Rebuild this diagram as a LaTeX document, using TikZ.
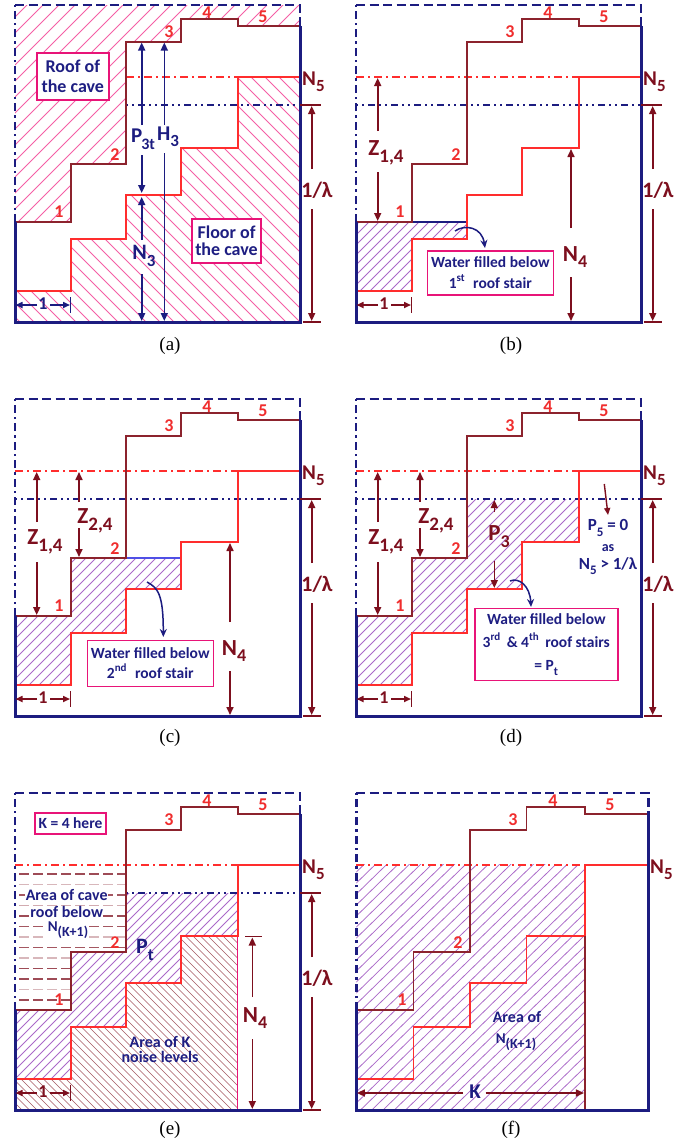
\documentclass[tikz,border=0pt]{standalone}
\usepackage{fontspec}
\setmainfont{Liberation Serif}
\newfontfamily\calfont{Carlito}
\usetikzlibrary{arrows.meta}
\definecolor{navy}{RGB}{28,28,128}
\definecolor{roofc}{RGB}{140,35,45}
\definecolor{dred}{RGB}{125,15,30}
\definecolor{flr}{RGB}{255,45,45}
\definecolor{stairred}{RGB}{240,45,45}
\definecolor{pinkb}{RGB}{232,20,120}
\definecolor{pinkh}{RGB}{245,95,165}
\definecolor{purh}{RGB}{170,105,200}
\definecolor{txtblue}{RGB}{30,30,130}
\definecolor{wblue}{RGB}{80,80,230}
\newcommand\lab[3]{#1\raisebox{-0.3em}{\fontsize{#3}{#3}\selectfont #2}}
\newcommand\sups[1]{\raisebox{0.45em}{\fontsize{11}{11}\selectfont #1}}
\newcommand\hatchNE[3]{\begin{scope}\clip #3;\foreach \k in {0,...,95}{\draw[#1] ({-330+\k*#2},330) -- ++(330,-330);}\end{scope}}
\newcommand\hatchNW[3]{\begin{scope}\clip #3;\foreach \k in {0,...,95}{\draw[#1] ({-330+\k*#2},0) -- ++(330,330);}\end{scope}}
\tikzset{
  boxsolid/.style={navy, line width=3pt},
  boxdashT/.style={navy, line width=2.6pt, dash pattern=on 9pt off 4.5pt},
  boxdashL/.style={navy, line width=2.6pt, dash pattern=on 8pt off 4pt on 2.5pt off 4pt},
  roof/.style={roofc, line width=1.8pt},
  floor/.style={flr, line width=1.8pt},
  n5line/.style={flr, line width=1.6pt, dash pattern=on 8pt off 4pt on 2pt off 4pt},
  lamline/.style={navy, line width=1.6pt, dash pattern=on 2pt off 4pt on 2pt off 4pt on 7pt off 4pt},
  stairlbl/.style={font=\calfont\bfseries\fontsize{18}{18}\selectfont, text=stairred, inner sep=0pt},
  biglbl/.style={font=\calfont\bfseries\fontsize{21}{21}\selectfont, inner sep=0pt},
  dim/.style={line width=1.6pt, -{Triangle[length=8pt,width=7pt]}},
  curv/.style={navy, line width=1.5pt, -{Stealth[length=8pt,width=7pt]}},
  txtbox/.style={draw=pinkb, line width=1.5pt, fill=white, text=txtblue, align=center, inner sep=0pt},
  hpink/.style={pinkh, line width=0.8pt},
  hpur/.style={purh, line width=0.75pt},
  hdred/.style={dred!70, line width=0.6pt},
  captxt/.style={font=\fontsize{19}{19}\selectfont, inner sep=0pt}
}
\newcommand\roofline{\draw[roof] (15,222) -- (70.7,222) -- (70.7,164) -- (126,164) -- (126,41.7) -- (181,41.7) -- (181,19) -- (237.7,19) -- (237.7,26) -- (300,26);}
\newcommand\floorline{\draw[floor] (15,290.7) -- (70.7,290.7) -- (70.7,239.3) -- (126,239.3) -- (126,195) -- (181,195) -- (181,148.3) -- (237.7,148.3) -- (237.7,76.7) -- (300,76.7);}
\newcommand\panelbox{%
  \draw[boxsolid] (15,222) -- (15,322) -- (300,322) -- (300,26);
  \draw[boxdashL] (15,222) -- (15,5);
  \draw[boxdashT] (15,5) -- (300,5) -- (300,26);}
\newcommand\stairs[1]{%
  \node[stairlbl] (s1#1) at (59,212) {1};
  \node[stairlbl] (s2#1) at (115,155) {2};
  \node[stairlbl] (s3#1) at (169,32) {3};
  \node[stairlbl] (s4#1) at (207,13) {4};
  \node[stairlbl] (s5#1) at (263,17) {5};}
\newcommand\nfive[1]{\node[biglbl, text=dred, anchor=west] (n5#1) at (302,82) {\lab{N}{5}{17}};}
\newcommand\vdim[7]{%
  \coordinate (#7t) at (#2,#3); \coordinate (#7u) at (#2,#4);
  \coordinate (#7l) at (#2,#5); \coordinate (#7b) at (#2,#6);
  \draw[dim,#1] (#7u) -- (#7t); \draw[dim,#1] (#7l) -- (#7b);}
\newcommand\lamdim[1]{%
  \node[biglbl, text=dred, font=\calfont\bfseries\fontsize{22}{22}\selectfont] (lam#1) at (317,190) {1/λ};
  \draw[dred, line width=1.5pt] (300,105) -- (321,105);
  \draw[dred, line width=1.5pt] (303,322) -- (321,322);
  \vdim{dred}{311.7}{106}{169}{209}{321}{lamd#1}}
\newcommand\onedim[2]{%
  \node[font=\calfont\bfseries\fontsize{18}{18}\selectfont, text=#1, inner sep=0pt] (one#2) at (43,304) {1};
  \coordinate (oneL#2) at (15.5,305); \coordinate (oneR#2) at (70,305);
  \coordinate (oneA#2) at (37,305); \coordinate (oneB#2) at (50,305);
  \draw[#1, line width=1.6pt, -{Triangle[length=7pt,width=6pt]}] (oneA#2) -- (oneL#2);
  \draw[#1, line width=1.6pt, -{Triangle[length=7pt,width=6pt]}] (oneB#2) -- (oneR#2);
  \draw[#1, line width=1.3pt] (70.7,297) -- (70.7,313);}
\newcommand\zonefour[1]{%
  \node[biglbl, text=dred, font=\calfont\bfseries\fontsize{23}{23}\selectfont] (z1#1) at (45,148) {\lab{Z}{1,4}{19}};
  \vdim{dred}{36.7}{78}{128}{168}{221}{z1d#1}}
\newcommand\ztwofour[1]{%
  \node[biglbl, text=dred, font=\calfont\bfseries\fontsize{23}{23}\selectfont] (z2#1) at (95,127) {\lab{Z}{2,4}{19}};
  \vdim{dred}{79}{78}{108}{134}{163}{z2d#1}}
\newcommand\nfour[3]{%
  \node[biglbl, text=dred, font=\calfont\bfseries\fontsize{23}{23}\selectfont] (n4#1) at (#2+4,257) {\lab{N}{4}{18}};
  \vdim{dred}{#2}{#3}{228}{277}{321}{n4d#1}}
\begin{document}
\begin{tikzpicture}[x=1pt,y=-1pt]
\useasboundingbox (0,0) rectangle (697,1144);
\fill[white] (0,0) rectangle (697,1144);

% ---------------- (a)
\begin{scope}
  \hatchNE{hpink}{16}{(15,5) -- (300,5) -- (300,26) -- (237.7,26) -- (237.7,19) -- (181,19) -- (181,41.7) -- (126,41.7) -- (126,164) -- (70.7,164) -- (70.7,222) -- (15,222) -- cycle}
  \hatchNW{hpink}{14}{(15,322) -- (15,290.7) -- (70.7,290.7) -- (70.7,239.3) -- (126,239.3) -- (126,195) -- (181,195) -- (181,148.3) -- (237.7,148.3) -- (237.7,76.7) -- (300,76.7) -- (300,322) -- cycle}
  \draw[n5line] (126,76.7) -- (237.7,76.7);
  \draw[lamline] (126,105) -- (300,105);
  \roofline \floorline \panelbox
  \stairs{a} \nfive{a} \lamdim{a}
  \node[txtbox, minimum width=72pt, minimum height=47pt, font=\calfont\bfseries\fontsize{18}{20}\selectfont] (roofbox) at (72.8,76.5) {Roof of\\the cave};
  \node[txtbox, minimum width=69pt, minimum height=44pt, font=\calfont\bfseries\fontsize{18}{17}\selectfont] (floorbox) at (226.5,241) {Floor of\\the cave};
  \node[biglbl, text=navy] (p3t) at (143,139) {P\raisebox{-0.35em}{\fontsize{16}{16}\selectfont\hspace{-1pt}3t}};
  \node[biglbl, text=navy] (h3) at (168,137) {\lab{H}{3}{17}};
  \node[biglbl, text=navy, font=\calfont\bfseries\fontsize{22}{22}\selectfont] (n3) at (144,256) {\lab{N}{3}{17}};
  \vdim{navy}{141.7}{42.5}{125}{155}{193}{p3d}
  \coordinate (n3t) at (141.7,197); \coordinate (n3u) at (141.7,240);
  \coordinate (n3l) at (141.7,274); \coordinate (n3b) at (141.7,321);
  \draw[dim,navy] (n3u) -- (n3t); \draw[dim,navy] (n3l) -- (n3b);
  \vdim{navy}{164.3}{42.5}{125}{153}{321}{h3d}
  \onedim{navy}{a}
  \node[captxt] (capa) at (170,346) {(a)};
\end{scope}

% ---------------- (b)
\begin{scope}[shift={(341,0)}]
  \hatchNE{hpur}{10}{(15,222) -- (126,222) -- (126,239.3) -- (70.7,239.3) -- (70.7,290.7) -- (15,290.7) -- cycle}
  \draw[n5line] (15,76.7) -- (237.7,76.7);
  \draw[lamline] (15,105) -- (300,105);
  \draw[navy, line width=2pt] (70.7,222) -- (126,222);
  \roofline \floorline \panelbox
  \stairs{b} \nfive{b} \lamdim{b}
  \node[biglbl, text=dred, font=\calfont\bfseries\fontsize{23}{23}\selectfont] (z1b) at (45,153) {\lab{Z}{1,4}{19}};
  \vdim{dred}{36.7}{78}{131}{172}{221}{z1db}
  \nfour{b}{230}{149}
  \node[txtbox, minimum width=126pt, minimum height=44pt, font=\calfont\bfseries\fontsize{15.5}{21}\selectfont] (wb) at (149.3,272.9) {Water filled below\\1\sups{st}\hspace{5pt} roof stair};
  \coordinate (cbs) at (114,231); \coordinate (cbe) at (144,248);
  \draw[curv] (cbs) .. controls (124,224) and (141,227) .. (cbe);
  \onedim{dred}{b}
  \node[captxt] (capb) at (170,346) {(b)};
\end{scope}

% ---------------- (c)
\begin{scope}[shift={(0,394)}]
  \hatchNE{hpur}{10}{(15,222) -- (70.7,222) -- (70.7,164) -- (181,164) -- (181,195) -- (126,195) -- (126,239.3) -- (70.7,239.3) -- (70.7,290.7) -- (15,290.7) -- cycle}
  \draw[n5line] (15,76.7) -- (237.7,76.7);
  \draw[lamline] (15,105) -- (300,105);
  \draw[wblue, line width=1.5pt] (126,164) -- (181,164);
  \roofline \floorline \panelbox
  \stairs{c} \nfive{c} \lamdim{c}
  \zonefour{c} \ztwofour{c}
  \nfour{c}{230}{149}
  \node[txtbox, minimum width=126pt, minimum height=46pt, font=\calfont\bfseries\fontsize{15.5}{20}\selectfont] (wc) at (150.3,269.3) {Water filled below\\2\sups{nd}\hspace{5pt} roof stair};
  \coordinate (ccs) at (147,188); \coordinate (cce) at (163.3,243);
  \draw[curv] (ccs) .. controls (158,194) and (163.3,200) .. (cce);
  \onedim{dred}{c}
  \node[captxt] (capc) at (170,344) {(c)};
\end{scope}

% ---------------- (d)
\begin{scope}[shift={(341,394)}]
  \hatchNE{hpur}{10}{(15,222) -- (70.7,222) -- (70.7,164) -- (126,164) -- (126,105) -- (237.7,105) -- (237.7,148.3) -- (181,148.3) -- (181,195) -- (126,195) -- (126,239.3) -- (70.7,239.3) -- (70.7,290.7) -- (15,290.7) -- cycle}
  \draw[n5line] (15,76.7) -- (237.7,76.7);
  \draw[lamline] (15,105) -- (300,105);
  \roofline \floorline \panelbox
  \stairs{d} \nfive{d} \lamdim{d}
  \zonefour{d} \ztwofour{d}
  \node[biglbl, text=dred, font=\calfont\bfseries\fontsize{23}{23}\selectfont] (p3) at (158,143) {\lab{P}{3}{18}};
  \vdim{dred}{153.3}{106}{118}{167}{194}{p3dd}
  \coordinate (p5s) at (263.3,90); \coordinate (p5e) at (267,121);
  \draw[dred, line width=1.4pt, -{Triangle[length=7pt,width=6pt]}] (p5s) -- (p5e);
  \node[text=txtblue, font=\calfont\bfseries\fontsize{17}{17}\selectfont, inner sep=0pt] (p5a) at (267,134) {P\raisebox{-0.3em}{\fontsize{13}{13}\selectfont 5} = 0};
  \node[text=txtblue, font=\calfont\bfseries\fontsize{14}{14}\selectfont, inner sep=0pt] (p5b) at (267,154) {as};
  \node[text=txtblue, font=\calfont\bfseries\fontsize{17}{17}\selectfont, inner sep=0pt] (p5c) at (267,172) {N\raisebox{-0.3em}{\fontsize{13}{13}\selectfont 5} > 1/λ};
  \node[txtbox, minimum width=143pt, minimum height=72pt, font=\calfont\bfseries\fontsize{15.5}{23}\selectfont] (wd) at (205.3,250.5) {Water filled below\\3\sups{rd}\hspace{3pt} \& 4\sups{th}\hspace{3pt} roof stairs\\= P\raisebox{-0.3em}{\fontsize{12}{12}\selectfont t}};
  \coordinate (cds) at (169,187); \coordinate (cde) at (190,213);
  \draw[curv] (cds) .. controls (178,183) and (189,192) .. (cde);
  \onedim{dred}{d}
  \node[captxt] (capd) at (170,344) {(d)};
\end{scope}

% ---------------- (e)
\begin{scope}[shift={(0,788)}]
  \hatchNE{hpur}{9}{(15,222) -- (70.7,222) -- (70.7,164) -- (126,164) -- (126,105) -- (237.7,105) -- (237.7,148.3) -- (181,148.3) -- (181,195) -- (126,195) -- (126,239.3) -- (70.7,239.3) -- (70.7,290.7) -- (15,290.7) -- cycle}
  \hatchNW{hdred}{7.5}{(15,322) -- (15,290.7) -- (70.7,290.7) -- (70.7,239.3) -- (126,239.3) -- (126,195) -- (181,195) -- (181,148.3) -- (237.7,148.3) -- (237.7,322) -- cycle}
  \foreach \y/\c in {86/dred!75, 96.5/dred!30, 107/dred!70, 117.5/dred!35, 128/dred!75, 138.5/dred!70, 149/dred!30, 159.5/dred!70}
    {\draw[\c, line width=1.1pt, dash pattern=on 10pt off 4pt] (19,\y) -- (126,\y);}
  \foreach \y/\c in {170/dred!30, 180.5/dred!75, 191/dred!75, 201.5/dred!30, 212/dred!75}
    {\draw[\c, line width=1.1pt, dash pattern=on 10pt off 4pt] (19,\y) -- (70.7,\y);}
  \draw[n5line] (15,76.7) -- (237.7,76.7);
  \draw[lamline] (126,105) -- (300,105);
  \draw[pinkb, line width=1.2pt] (237.7,148.3) -- (237.7,322);
  \roofline \floorline \panelbox
  \stairs{e} \nfive{e} \lamdim{e}
  \node[txtbox, minimum width=71pt, minimum height=21pt, font=\calfont\bfseries\fontsize{15.5}{16}\selectfont] (kbox) at (70.5,35.3) {K = 4 here};
  \node[text=txtblue, font=\calfont\bfseries\fontsize{16}{17}\selectfont, fill=white, inner sep=0.5pt] (ar1) at (66.7,107.3) {Area of cave};
  \node[text=txtblue, font=\calfont\bfseries\fontsize{16}{17}\selectfont, fill=white, inner sep=0.5pt] (ar2) at (66.7,124) {roof below};
  \node[text=txtblue, font=\calfont\bfseries\fontsize{15}{15}\selectfont, fill=white, inner sep=0.5pt] (ar3) at (68,142) {N\raisebox{-0.35em}{\fontsize{14}{14}\selectfont (K+1)}};
  \node[biglbl, text=navy, font=\calfont\bfseries\fontsize{22}{22}\selectfont] (pte) at (145,162) {P\raisebox{-0.3em}{\fontsize{17}{17}\selectfont t}};
  \node[text=txtblue, font=\calfont\bfseries\fontsize{16}{15}\selectfont, align=center, inner sep=0pt] (arK) at (160,261.5) {Area of K\\noise levels};
  \draw[dred, line width=1.5pt] (245,148.3) -- (262,148.3);
  \node[biglbl, text=dred, font=\calfont\bfseries\fontsize{23}{23}\selectfont] (n4e) at (255,230) {\lab{N}{4}{18}};
  \vdim{dred}{252.3}{149.5}{209}{251}{321}{n4de}
  \onedim{dred}{e}
  \node[captxt] (cape) at (170,342) {(e)};
\end{scope}

% ---------------- (f)
\begin{scope}[shift={(341,788)}]
  \begin{scope}[xscale=1.025]
  \hatchNE{hpur}{11}{(15,76.7) -- (237.7,76.7) -- (237.7,322) -- (15,322) -- cycle}
  \draw[n5line] (15,76.7) -- (237.7,76.7);
  \roofline \floorline
  \draw[roofc, line width=1.8pt] (237.7,148.3) -- (237.7,322);
  \panelbox
  \coordinate (kl) at (15.5,305); \coordinate (kr) at (237,305);
  \coordinate (kla) at (119,305); \coordinate (kra) at (141,305);
  \draw[dim,dred] (kla) -- (kl); \draw[dim,dred] (kra) -- (kr);
  \end{scope}
  \node[stairlbl] (s1f) at (61,212) {1};
  \node[stairlbl] (s2f) at (117,155) {2};
  \node[stairlbl] (s3f) at (172,32) {3};
  \node[stairlbl] (s4f) at (212,13) {4};
  \node[stairlbl] (s5f) at (269,17) {5};
  \node[biglbl, text=dred, anchor=west] (n5f) at (309,82) {\lab{N}{5}{17}};
  \node[biglbl, text=navy, font=\calfont\bfseries\fontsize{21}{21}\selectfont] (kf) at (134,304) {K};
  \node[text=txtblue, font=\calfont\bfseries\fontsize{16}{17}\selectfont, inner sep=0pt] (af1) at (176,229) {Area of};
  \node[text=txtblue, font=\calfont\bfseries\fontsize{15}{15}\selectfont, inner sep=0pt] (af2) at (175,254) {N\raisebox{-0.35em}{\fontsize{14}{14}\selectfont (K+1)}};
  \node[captxt] (capf) at (170,342) {(f)};
\end{scope}
\end{tikzpicture}
\end{document}
